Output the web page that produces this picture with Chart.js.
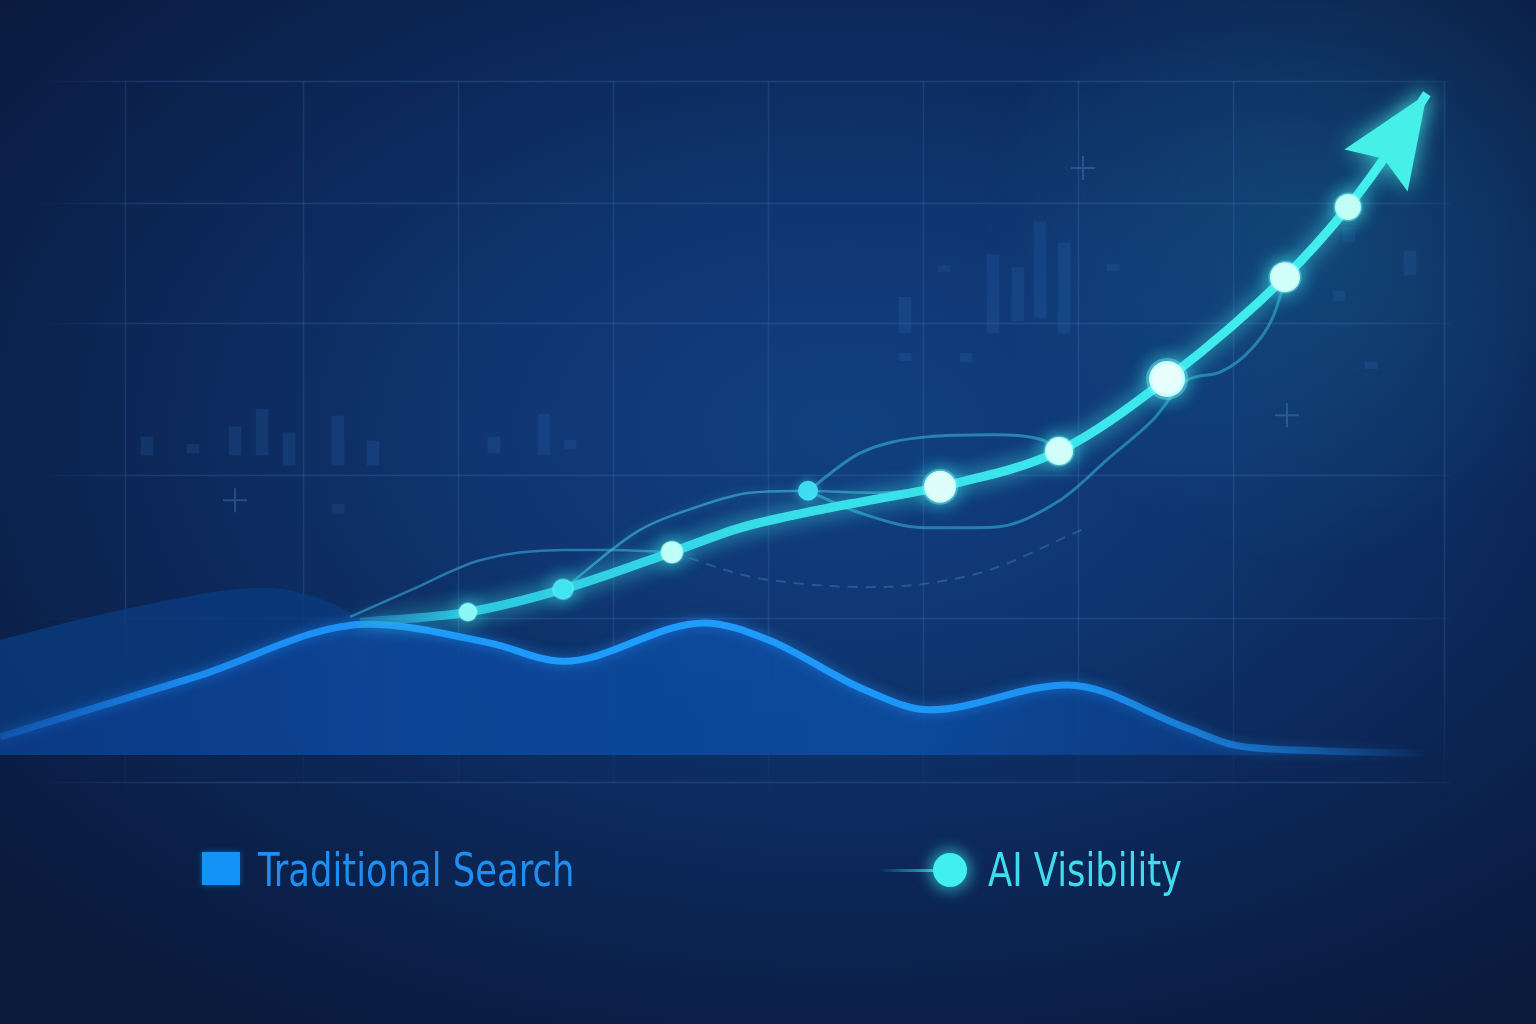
<!DOCTYPE html>
<html><head><meta charset="utf-8">
<script src="https://cdn.jsdelivr.net/npm/chart.js@4.4.1/dist/chart.umd.min.js"></script>
<style>
html,body{margin:0;padding:0;width:1536px;height:1024px;overflow:hidden;}
body{background: radial-gradient(ellipse 72% 68% at 55% 42%, #114080 0%, #0f3671 32%, #0c2859 62%, #0b1f48 85%, #0a1a3d 100%);}
#wrap{position:absolute;left:0;top:0;width:1536px;height:1024px;}
canvas{position:absolute;left:0;top:0;}
.lg{position:absolute;font-family:"Liberation Sans Narrow","DejaVu Sans Condensed","Roboto Condensed",sans-serif;font-size:46px;line-height:46px;white-space:nowrap;transform:scaleX(0.855);transform-origin:0 0;}
</style></head>
<body>
<div id="wrap">
<canvas id="c" width="1536" height="1024"></canvas>
<div style="position:absolute;left:202px;top:852px;width:38px;height:33px;background:#1592f7;box-shadow:0 0 6px rgba(21,146,247,0.5);"></div>
<div class="lg" style="left:258px;top:847px;color:#1e8ef0;">Traditional Search</div>
<div style="position:absolute;left:880px;top:869px;width:60px;height:3px;background:linear-gradient(90deg,rgba(60,230,240,0),rgba(60,230,240,0.8));"></div>
<div style="position:absolute;left:933px;top:853px;width:34px;height:34px;border-radius:50%;background:#41eef0;box-shadow:0 0 14px 4px rgba(64,240,240,0.55);"></div>
<div class="lg" style="left:988px;top:847px;color:#3fdcef;">AI Visibility</div>
</div>
<script>
// ---- data ----
const tsX = [0.05, 1.31, 2.42, 3.21, 3.68, 4.59, 5.0, 5.63, 6.04, 6.93, 7.68, 8.0, 8.47, 9.1, 9.36];
const tsY = [2.7, 11.6, 19.4, 16.6, 13.9, 19.6, 17.1, 9.6, 6.7, 10.4, 4.2, 1.5, 0.7, 0.3, 0.2];

const hillX = [0.05, 0.89, 1.76, 2.18, 2.45, 3.0];
const hillY = [17.1, 21.8, 24.8, 22.6, 19.2, 14.0];

const aiX = [2.37, 3.066, 3.679, 4.381, 4.82, 5.25, 5.68, 6.109, 6.876, 7.572, 8.332, 8.738, 8.964, 9.247];
const aiY = [19.7, 21.2, 24.6, 30.1, 33.7, 36.0, 37.9, 39.8, 45.1, 55.8, 70.9, 81.3, 88.3, 98.1];

const echoAX = [2.306, 2.7, 3.144, 3.679, 3.962, 4.381];
const echoAY = [20.5, 24.5, 28.9, 30.4, 30.4, 30.1];
const echoDashX = [4.381, 4.839, 5.0, 5.63, 6.04, 6.42, 7.02];
const echoDashY = [30.1, 26.7, 26.0, 24.9, 25.5, 27.4, 33.4];
const echoDX = [3.679, 4.175, 4.542, 4.884, 5.258];
const echoDY = [24.6, 33.4, 36.8, 38.9, 39.2];
const echoEX = [5.258, 5.677, 6.109];
const echoEY = [39.2, 38.9, 39.8];
const echoBX = [5.258, 5.593, 6.025, 6.45, 6.773, 6.876, 7.095, 7.417, 7.572];
const echoBY = [39.2, 44.8, 47.2, 47.5, 46.7, 45.1, 48.2, 53.1, 55.8];
const echoCX = [5.258, 5.593, 6.025, 6.45, 6.882, 7.204, 7.48, 7.70, 7.913, 8.126, 8.255, 8.34];
const echoCY = [39.2, 35.9, 33.7, 33.8, 37.8, 44.2, 49.7, 55.6, 56.8, 60.5, 65.0, 70.9];

const barX  = [0.997,1.294,1.565,1.739,1.913,2.229,2.454,3.234,3.556,3.724,2.229, 5.883,6.134,6.45,6.611,6.753,6.908,7.224,8.745,9.138,8.68,5.883,6.276,8.887];
const barLo = [44.5,44.8,44.5,44.5,43.0,43.0,43.0,44.8,44.5,45.4,35.9, 62.6,71.7,62.6,64.4,64.8,62.6,71.8,76.1,71.2,67.4,58.5,58.3,57.3];
const barHi = [47.2,46.1,48.7,51.3,47.8,50.3,46.6,47.2,50.6,46.7,37.2, 67.9,72.6,74.2,72.3,79.1,76.0,72.8,78.3,74.8,68.8,59.6,59.6,58.3];

const crossX = [7.03, 1.565, 8.345];
const crossY = [87.1, 37.8, 50.4];

const gridX = [0.856, 2, 3, 4, 5, 6, 7, 8, 9.36];
const gridY = [100, 81.9, 64.1, 41.5, 20.3, -4];

// ---- styles ----
const aiRadius = [0, 9, 10, 11, 0, 0, 0, 16, 14, 18, 15, 13, 0, 0];
const aiPointColor = ['#7ff5f5','#8ff7f4','#40e4f2','#c4fff8','#fff','#fff','#fff','#e8fffb','#d8fffa','#f4fffd','#d8fffa','#c8fff6','#fff','#fff'];
const aiPointBorder = [0,2,2,2,0,0,0,4,3,6,3,3,0,0];

const pts = (xs, ys) => xs.map((x, i) => ({x, y: ys[i]}));

function hGrad(context, stops){
  const chart = context.chart; const ca = chart.chartArea;
  if(!ca) return stops[0][1];
  const g = chart.ctx.createLinearGradient(0, 0, 1536, 0);
  stops.forEach(s => g.addColorStop(s[0], s[1]));
  return g;
}

const glowPlugin = {
  id:'glow',
  beforeDatasetDraw(chart, args){
    const ds = chart.data.datasets[args.index]; const c = chart.ctx;
    c.save();
    if(ds.glowColor){ c.shadowColor = ds.glowColor; c.shadowBlur = ds.glowBlur || 10; }
  },
  afterDatasetDraw(chart){ chart.ctx.restore(); }
};

const bgPlugin = {
  id:'bg',
  beforeDraw(chart){
    const c = chart.ctx;
    c.save();
    const g = c.createRadialGradient(1320, 230, 0, 1320, 230, 340);
    g.addColorStop(0, 'rgba(40,170,210,0.20)');
    g.addColorStop(1, 'rgba(40,170,210,0)');
    c.fillStyle = g; c.fillRect(0, 0, 1536, 1024);
    const xs = chart.scales.x, ys = chart.scales.y;
    c.lineWidth = 1.5;
    const hg = c.createLinearGradient(0,0,1536,0);
    hg.addColorStop(0.02,'rgba(75,125,195,0)');
    hg.addColorStop(0.1,'rgba(75,125,195,0.26)');
    hg.addColorStop(0.9,'rgba(75,125,195,0.26)');
    hg.addColorStop(0.96,'rgba(75,125,195,0)');
    c.strokeStyle = hg;
    gridY.forEach(v => {
      const y = Math.round(ys.getPixelForValue(v)) + 0.5;
      c.beginPath(); c.moveTo(xs.getPixelForValue(0.3), y); c.lineTo(xs.getPixelForValue(9.4), y); c.stroke();
    });
    const vg = c.createLinearGradient(0, ys.getPixelForValue(100), 0, ys.getPixelForValue(-9));
    vg.addColorStop(0,'rgba(75,125,195,0.2)');
    vg.addColorStop(0.75,'rgba(75,125,195,0.24)');
    vg.addColorStop(1,'rgba(75,125,195,0)');
    c.strokeStyle = vg;
    gridX.forEach(v => {
      const x = Math.round(xs.getPixelForValue(v)) + 0.5;
      c.beginPath(); c.moveTo(x, ys.getPixelForValue(100)); c.lineTo(x, ys.getPixelForValue(-9)); c.stroke();
    });
    c.restore();
  }
};

const arrowPlugin = {
  id:'arrow',
  afterDatasetsDraw(chart){
    const idx = chart.data.datasets.findIndex(d => d.label === 'AI Visibility');
    const el = chart.getDatasetMeta(idx).data;
    const tip = el[el.length-1], base = el[el.length-2];
    let dx = tip.x - base.x, dy = tip.y - base.y; const l = Math.hypot(dx, dy); dx/=l; dy/=l;
    const vx = -dy, vy = dx;
    const L = 92, W = 38, N = 78;
    const c = chart.ctx; c.save();
    c.shadowColor = 'rgba(70,240,235,0.8)'; c.shadowBlur = 22;
    c.fillStyle = '#46efe8';
    c.beginPath();
    c.moveTo(tip.x, tip.y);
    c.lineTo(tip.x - L*dx + W*vx, tip.y - L*dy + W*vy);
    c.lineTo(tip.x - N*dx, tip.y - N*dy);
    c.lineTo(tip.x - L*dx - W*vx, tip.y - L*dy - W*vy);
    c.closePath(); c.fill();
    c.restore();
  }
};

const thin = 'rgba(70,200,225,0.55)';

new Chart(document.getElementById('c'), {
  type:'line',
  data:{ datasets:[
    { label:'AI Visibility', data: pts(aiX, aiY), order:1, clip:false,
      borderWidth:9, cubicInterpolationMode:'monotone',
      borderColor: ctx => hGrad(ctx, [[0.22,'rgba(40,150,210,0.3)'],[0.3,'#2cc6e0'],[0.5,'#37dde8'],[0.8,'#3febed'],[0.95,'#4af2ee']]),
      pointRadius: aiRadius, pointBackgroundColor: aiPointColor,
      pointBorderColor:'rgba(140,255,250,0.35)', pointBorderWidth: aiPointBorder,
      glowColor:'rgba(64,235,240,0.8)', glowBlur:20, fill:false },
    { label:'echoD', data: pts(echoDX, echoDY), order:2, clip:false, borderWidth:2.5, borderColor:thin,
      cubicInterpolationMode:'monotone', pointRadius:[0,0,0,0,10], pointBackgroundColor:'#3fdcf0', pointBorderWidth:0,
      glowColor:'rgba(64,220,240,0.6)', glowBlur:10, fill:false },
    { label:'echoE', data: pts(echoEX, echoEY), order:3, clip:false, borderWidth:2.5, borderColor:'rgba(70,200,225,0.5)',
      cubicInterpolationMode:'monotone', pointRadius:0, fill:false },
    { label:'echoA', data: pts(echoAX, echoAY), order:3, clip:false, borderWidth:2.5, borderColor:'rgba(50,150,205,0.7)',
      cubicInterpolationMode:'monotone', pointRadius:0, fill:false },
    { label:'echoDash', data: pts(echoDashX, echoDashY), order:3, clip:false, borderWidth:2, borderColor:'rgba(70,140,200,0.4)',
      borderDash:[10,8], cubicInterpolationMode:'monotone', pointRadius:0, fill:false },
    { label:'echoB', data: pts(echoBX, echoBY), order:3, clip:false, borderWidth:3, borderColor:'rgba(60,190,215,0.55)',
      cubicInterpolationMode:'monotone', pointRadius:0, fill:false },
    { label:'echoC', data: pts(echoCX, echoCY), order:3, clip:false, borderWidth:3, borderColor:'rgba(50,175,205,0.6)',
      cubicInterpolationMode:'monotone', pointRadius:0, fill:false },
    { label:'Traditional Search', data: pts(tsX, tsY), order:6, clip:false, borderWidth:7,
      cubicInterpolationMode:'monotone', pointRadius:0,
      borderColor: ctx => hGrad(ctx, [[0,'rgba(20,100,200,0.5)'],[0.12,'#1a8af0'],[0.4,'#1f9eff'],[0.7,'#1c92f2'],[0.82,'rgba(28,140,235,0.6)'],[0.93,'rgba(28,130,230,0)']]),
      backgroundColor: ctx => hGrad(ctx, [[0,'rgba(12,58,135,0.8)'],[0.3,'rgba(13,72,155,0.9)'],[0.6,'rgba(13,76,160,0.9)'],[0.78,'rgba(12,66,145,0.7)'],[0.94,'rgba(12,50,120,0)']]),
      fill:'origin', glowColor:'rgba(30,150,255,0.55)', glowBlur:12 },
    { label:'hill', data: pts(hillX, hillY), order:7, clip:false, borderWidth:0, pointRadius:0,
      cubicInterpolationMode:'monotone', backgroundColor:'rgba(11,58,125,0.85)', fill:'origin' },
    { label:'bars', type:'bar', data: barX.map((x,i)=>({x, y:[barLo[i], barHi[i]]})), order:9,
      barThickness:12, backgroundColor:'rgba(50,110,185,0.2)', borderWidth:0 },
    { label:'marks', type:'scatter', data: pts(crossX, crossY), order:9, pointStyle:'cross',
      pointRadius:12, borderWidth:2, borderColor:'rgba(80,130,200,0.4)', showLine:false }
  ]},
  options:{
    responsive:false, animation:false, events:[],
    layout:{ autoPadding:false, padding:{ top:81, bottom:269, left:0, right:0 } },
    plugins:{ legend:{ display:false }, tooltip:{ enabled:false } },
    scales:{
      x:{ type:'linear', min:0.05, max:9.95, display:false, offset:false },
      y:{ type:'linear', min:0, max:100, display:false }
    }
  },
  plugins:[bgPlugin, glowPlugin, arrowPlugin]
});
</script>
</body></html>
